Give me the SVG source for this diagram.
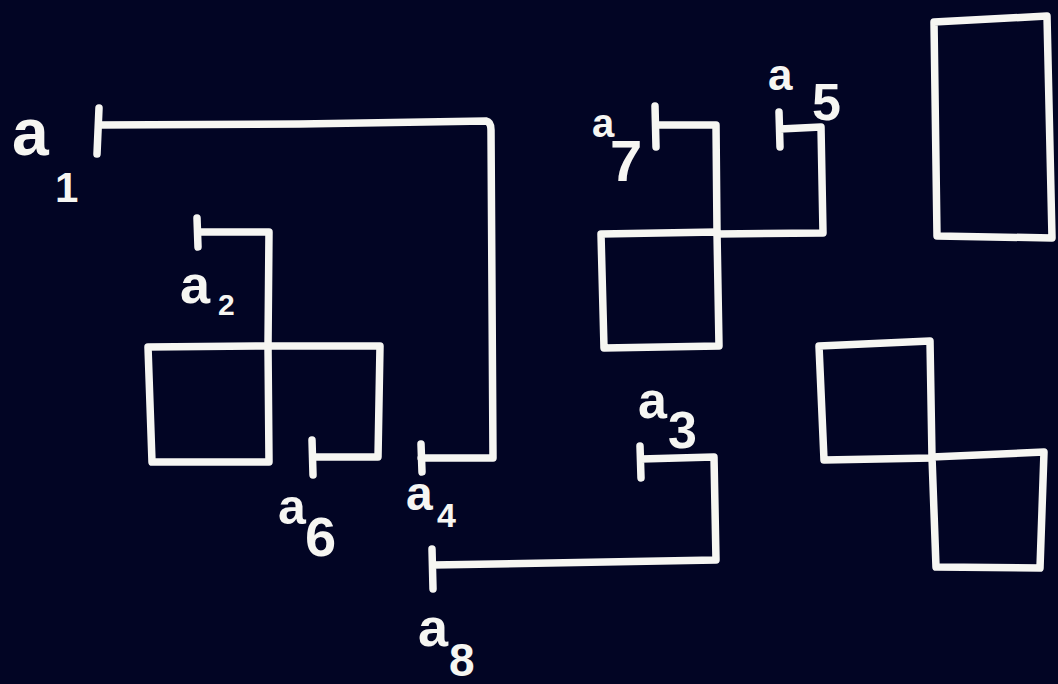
<svg xmlns="http://www.w3.org/2000/svg" width="1058" height="684" viewBox="0 0 1058 684">
<style>
.bg{fill:#020524}
.s{fill:none;stroke:#f6f6f2;stroke-width:7.5;stroke-linecap:round;stroke-linejoin:round}
.t{fill:#f6f6f2;font-family:"Liberation Sans",Arial,sans-serif;font-weight:bold}
</style>
<rect class="bg" x="0" y="0" width="1058" height="684"/>
<g id="node-left-square"><path class="s" d="M148,347 L268,346 L269,462 L152,462 Z"/></g>
<g id="node-mid-square"><path class="s" d="M601,234 L717,232 L719,346 L604,348 Z"/></g>
<g id="node-tall-rect"><path class="s" d="M934,22 L1047,16 L1052,238 L937,236 Z"/></g>
<g id="node-square-upper"><path class="s" d="M819,346 L930,341 L932,458 L824,460 Z"/></g>
<g id="node-square-lower"><path class="s" d="M932,457 L1044,452 L1040,568 L936,567 Z"/></g>
<g id="connectors">
<path class="s" d="M99,108 L97,154 M100,125 L300,124 L486,121 Q491,122 491,130 L493,458 L421,458 M421,444 L422,472"/>
<path class="s" d="M197,218 L198,247 M198,232 L269,232 L268,346"/>
<path class="s" d="M312,440 L313,475 M313,457 L378,457 L380,346 L268,346"/>
<path class="s" d="M640,446 L641,478 M641,459 L714,457 L716,560 L433,565 M432,549 L433,589"/>
<path class="s" d="M655,106 L656,147 M656,125 L716,125 L717,232"/>
<path class="s" d="M779,112 L780,147 M780,129 L821,127 L823,233 L717,234"/>
</g>
<g id="labels">
<text class="t"><tspan x="12" y="155" font-size="66">a</tspan><tspan x="55" y="202" font-size="42">1</tspan></text>
<text class="t"><tspan x="180" y="303" font-size="54">a</tspan><tspan x="218" y="315" font-size="30">2</tspan></text>
<text class="t"><tspan x="278" y="524" font-size="50">a</tspan><tspan x="305" y="556" font-size="56">6</tspan></text>
<text class="t"><tspan x="406" y="510" font-size="48">a</tspan><tspan x="437" y="527" font-size="34">4</tspan></text>
<text class="t"><tspan x="638" y="418" font-size="52">a</tspan><tspan x="668" y="448" font-size="52">3</tspan></text>
<text class="t"><tspan x="418" y="646" font-size="54">a</tspan><tspan x="449" y="676" font-size="46">8</tspan></text>
<text class="t"><tspan x="592" y="137" font-size="40">a</tspan><tspan x="610" y="181" font-size="58">7</tspan></text>
<text class="t"><tspan x="768" y="90" font-size="44">a</tspan><tspan x="812" y="120" font-size="52">5</tspan></text>
</g>
</svg>
